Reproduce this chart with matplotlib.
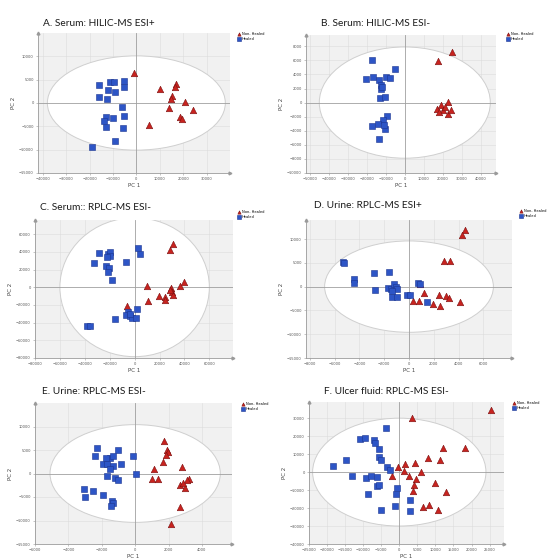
import matplotlib
matplotlib.use("Agg")
import matplotlib.pyplot as plt
from matplotlib.patches import Ellipse

# ---- datos (scores PCA) ----
a_healed_pc1 = [-16000, -11400, -9600, -5300, -5400, -11900, -9300, -16000, -12600, -6000,
                -5400, -12900, -10000, -14000, -12900, -5700, -9300, -19000]
a_healed_pc2 = [3900, 4400, 4600, 4800, 3500, 2800, 2400, 1200, 900, -800,
                -2700, -3100, -3200, -3900, -5100, -5400, -8200, -9400]
a_nonhealed_pc1 = [-1100, 10000, 17100, 16700, 15400, 15000, 20700, 13900, 24000, 18600, 19300, 5400]
a_nonhealed_pc2 = [6400, 3100, 4100, 3500, 1600, 900, 300, -1100, -1600, -2900, -3400, -4800]

b_healed_pc1 = [-17200, -5300, -20200, -16700, -13700, -10000, -7900, -12600, -12600, -11900,
                -13200, -10200, -9600, -11400, -14000, -17200, -10500, -13700, -11000]
b_healed_pc2 = [6000, 4700, 3400, 3700, 3200, 3700, 3500, 2500, 2000, 2200,
                600, 800, -1900, -2500, -3000, -3300, -3700, -5200, -3200]
b_nonhealed_pc1 = [24600, 17500, 22800, 19000, 16700, 20200, 22800, 18100, 21000, 24200]
b_nonhealed_pc2 = [7200, 5900, 100, -400, -900, -1100, -1600, -1300, -600, -1000]

c_healed_pc1 = [-28800, -21300, -19500, -20000, -22100, 2700, 4500, -6700, -32500, -23200,
                -20500, -21300, -17900, 1900, -5300, -6700, -3500, -1900, 800, -16000,
                -38100, -35500, -4000]
c_healed_pc2 = [38900, 38100, 40000, 35500, 34400, 44900, 37000, 28000, 27700, 23900,
                21300, 17600, 8200, -24700, -28400, -31000, -32900, -34800, -34800, -35500,
                -44100, -43400, -30000]
c_nonhealed_pc1 = [31200, 28500, 10100, 40000, 36500, 29300, 30100, 31200, 19500, 24000,
                   24000, 10700, -6100, 28800]
c_nonhealed_pc2 = [49300, 41900, 1900, 6400, 1900, -1100, -4900, -8600, -9700, -10500,
                   -14200, -16100, -21700, -3000]

d_healed_pc1 = [-5300, -5200, -4450, -4400, -2800, -1600, -2700, -1730, -1470, -1200,
                -1070, -930, -1410, -990, -130, 80, 720, 850, 1470, -1330]
d_healed_pc2 = [5100, 5000, 1700, 800, 2900, 3100, -800, -200, -600, 500,
                0, -600, -2100, -2100, -1800, -1800, 700, 500, -3300, -900]
d_nonhealed_pc1 = [4530, 4270, 2850, 3280, 1200, 2450, 3010, 3200, 4130, 350, 800, 1950, 2480, 880]
d_nonhealed_pc2 = [11900, 10900, 5300, 5300, -1300, -1700, -1900, -2300, -3200, -3000, -3000, -3700, -4000, 500]

e_healed_pc1 = [-2300, -2400, -1000, -1500, -1300, -1740, -1900, -1660, -1300, -860,
                -140, 60, -1500, -1700, -1200, -1000, -3060, -2540, -3000, -1940,
                -1400, -1300, -1460]
e_healed_pc2 = [5400, 3700, 4900, 3400, 3700, 3200, 2000, 2100, 1600, 2000,
                3700, 0, 900, -600, -900, -1400, -3400, -3700, -5000, -4600,
                -5900, -6300, -7000]
e_nonhealed_pc1 = [1740, 1900, 1940, 1860, 1660, 1100, 1000, 1360, 2800, 3200,
                   3100, 2700, 3000, 2660, 2140, 2860]
e_nonhealed_pc2 = [7000, 5100, 4600, 3900, 2500, 900, -1100, -1100, 1400, -1100,
                   -1400, -2500, -3000, -7100, -10700, -2100]

f_healed_pc1 = [-18400, -14700, -13100, -10900, -9500, -6900, -6600, -5500, -5500, -5200,
                -3600, -3300, -2500, -9100, -7900, -6100, -8800, -6100, -5500, -600,
                -900, -1300, -5200, 3000, 3000]
f_healed_pc2 = [3500, 6900, -2400, 18300, 18900, 17600, 16100, 12800, 8300, 6500,
                24500, 2800, 1300, -3300, -2000, -2800, -12000, -8000, -7000, -8900,
                -12000, -18700, -21300, -15700, -21900]
f_nonhealed_pc1 = [25500, 3600, 12100, 18200, 8000, 11200, 1600, 4400, -400, 1200,
                   6000, -2000, 2600, 4600, 4200, 3900, 10000, 13000, 6600, 8200, 10600]
f_nonhealed_pc2 = [34600, 30000, 13300, 13300, 7800, 6500, 4600, 5000, 2800, 400,
                   -200, -2400, -2400, -3900, -7000, -10700, -6100, -11300, -19400, -18500, -21300]

# elipses de Hotelling (semiejes PC1, PC2)
a_ellipse = [38000, 10100]
b_ellipse = [45000, 7900]
c_ellipse = [60000, 78500]
d_ellipse = [6800, 9600]
e_ellipse = [5100, 10400]
f_ellipse = [24000, 30000]

a_xticks = [-40000, -30000, -20000, -10000, 0, 10000, 20000, 30000]
a_yticks = [-15000, -10000, -5000, 0, 5000, 10000]
b_xticks = [-50000, -40000, -30000, -20000, -10000, 0, 10000, 20000, 30000, 40000]
b_yticks = [-10000, -8000, -6000, -4000, -2000, 0, 2000, 4000, 6000, 8000]
c_xticks = [-80000, -60000, -40000, -20000, 0, 20000, 40000, 60000]
c_yticks = [-80000, -60000, -40000, -20000, 0, 20000, 40000, 60000]
d_xticks = [-8000, -6000, -4000, -2000, 0, 2000, 4000, 6000]
d_yticks = [-15000, -10000, -5000, 0, 5000, 10000]
e_xticks = [-6000, -4000, -2000, 0, 2000, 4000]
e_yticks = [-15000, -10000, -5000, 0, 5000, 10000]
f_xticks = [-25000, -20000, -15000, -10000, -5000, 0, 5000, 10000, 15000, 20000, 25000]
f_yticks = [-40000, -30000, -20000, -10000, 0, 10000, 20000, 30000]

titles = ["A. Serum: HILIC-MS ESI+", "B. Serum: HILIC-MS ESI-", "C. Serum:: RPLC-MS ESI-",
          "D. Urine: RPLC-MS ESI+", "E. Urine: RPLC-MS ESI-", "F. Ulcer fluid: RPLC-MS ESI-"]
legend_labels = ["Non- Healed", "Healed"]

W, H = 548, 560
RED = "#c8231f"
BLUE = "#2d55c6"


def px_rect(l, t, r, b):
    return [l / W, 1 - b / H, (r - l) / W, (b - t) / H]


def panel(rect, title_xy, legend_xy, hx, hy, nx, ny, ell, xlim, ylim, xticks, yticks, title):
    ax = fig.add_axes(px_rect(*rect))
    ax.set_facecolor("#f1f1f1")
    ax.set_xlim(*xlim)
    ax.set_ylim(*ylim)
    ax.set_xticks(xticks)
    ax.set_yticks(yticks)
    ax.grid(True, color="#dcdcdc", linewidth=0.4)
    ax.set_axisbelow(True)
    ax.add_patch(Ellipse((0, 0), 2 * ell[0], 2 * ell[1], facecolor="white",
                         edgecolor="#cfcfcf", linewidth=0.7, zorder=1))
    ax.axhline(0, color="#a0a0a0", linewidth=0.6, zorder=1.5)
    ax.axvline(0, color="#a0a0a0", linewidth=0.6, zorder=1.5)
    tri = ax.scatter(nx, ny, marker="^", s=22, color=RED, edgecolor="#7a1010",
                     linewidth=0.4, zorder=3)
    sq = ax.scatter(hx, hy, marker="s", s=20, color=BLUE, edgecolor="#1c3590",
                    linewidth=0.4, zorder=3)
    for side in ["top", "right"]:
        ax.spines[side].set_visible(False)
    for side in ["left", "bottom"]:
        ax.spines[side].set_color("#9a9a9a")
        ax.spines[side].set_linewidth(0.6)
    ax.plot(1, 0, ">", color="#9a9a9a", ms=2, transform=ax.transAxes, clip_on=False)
    ax.plot(0, 1, "^", color="#9a9a9a", ms=2, transform=ax.transAxes, clip_on=False)
    ax.tick_params(labelsize=2.6, length=1.5, width=0.4, colors="#9a9a9a",
                   labelcolor="#555555", pad=1.5)
    ax.set_xlabel("PC 1", fontsize=4, color="#444444", labelpad=1)
    ax.set_ylabel("PC 2", fontsize=4, color="#444444", labelpad=2)
    fig.text(title_xy[0] / W, 1 - title_xy[1] / H, title, fontsize=7.3,
             family="Lato", color="#1a1a1a", ha="left", va="center")
    fig.legend([tri, sq], legend_labels, loc="upper left",
               bbox_to_anchor=(legend_xy[0] / W, 1 - legend_xy[1] / H),
               fontsize=2.6, frameon=False, handlelength=0.8, handletextpad=0.3,
               borderpad=0, labelspacing=0.3, markerscale=0.5)
    return ax


fig = plt.figure(figsize=(W / 100, H / 100), dpi=100)

panel((38, 33, 230, 173), (43, 23), (236, 30), a_healed_pc1, a_healed_pc2,
      a_nonhealed_pc1, a_nonhealed_pc2, a_ellipse, (-42000, 40000), (-15000, 15000),
      a_xticks, a_yticks, titles[0])
panel((306, 35, 496, 173), (321, 23), (505, 30), b_healed_pc1, b_healed_pc2,
      b_nonhealed_pc1, b_nonhealed_pc2, b_ellipse, (-52000, 48000), (-10000, 9600),
      b_xticks, b_yticks, titles[1])
panel((35, 220, 233, 358), (40, 207), (236, 208), c_healed_pc1, c_healed_pc2,
      c_nonhealed_pc1, c_nonhealed_pc2, c_ellipse, (-80000, 79000), (-80000, 76000),
      c_xticks, c_yticks, titles[2])
panel((306, 220, 512, 358), (314, 205), (518, 207), d_healed_pc1, d_healed_pc2,
      d_nonhealed_pc1, d_nonhealed_pc2, d_ellipse, (-8300, 8300), (-15000, 14000),
      d_xticks, d_yticks, titles[3])
panel((35, 403, 232, 544), (42, 392), (240, 400), e_healed_pc1, e_healed_pc2,
      e_nonhealed_pc1, e_nonhealed_pc2, e_ellipse, (-6000, 5800), (-15000, 15000),
      e_xticks, e_yticks, titles[4])
panel((309, 402, 504, 544), (324, 392), (511, 399), f_healed_pc1, f_healed_pc2,
      f_nonhealed_pc1, f_nonhealed_pc2, f_ellipse, (-25000, 29000), (-40000, 39000),
      f_xticks, f_yticks, titles[5])

fig.savefig("out.png", dpi=100)
